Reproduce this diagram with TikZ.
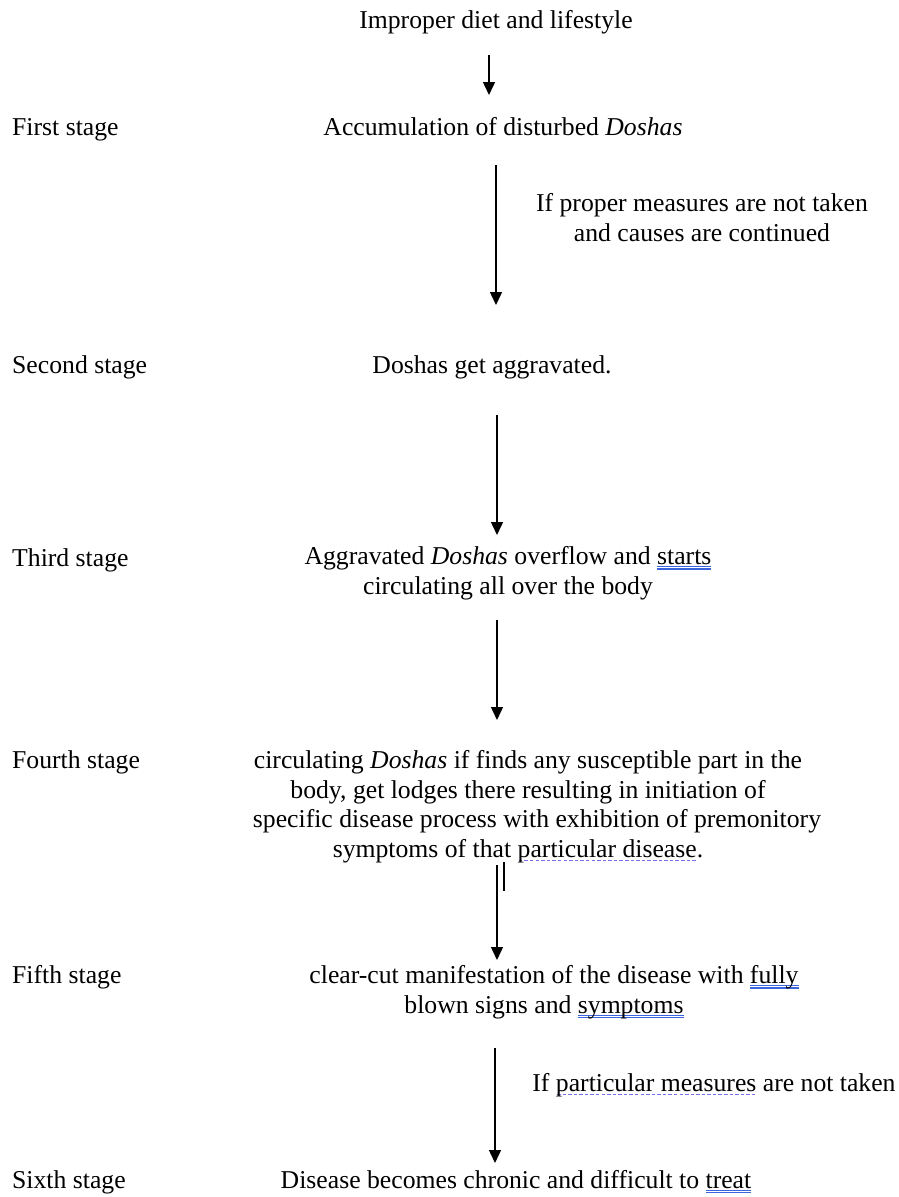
\documentclass[tikz,border=0pt]{standalone}
\usepackage{fontspec}
\setmainfont{Liberation Serif}
\usetikzlibrary{arrows.meta}
\definecolor{gramblue}{RGB}{60,100,220}
\definecolor{spellblue}{RGB}{120,110,240}
% word-style marks under words
\newsavebox\wordbox
\newcommand\gramline[1]{\sbox\wordbox{#1}%
  \rlap{\color{gramblue}\rule[-0.11em]{\wd\wordbox}{0.05em}}%
  \rlap{\color{gramblue}\rule[-0.2em]{\wd\wordbox}{0.05em}}\usebox\wordbox}
\newcommand\spellline[1]{\sbox\wordbox{#1}%
  \rlap{\hbox to \wd\wordbox{\color{spellblue}\xleaders\hbox{\kern1pt\rule[-0.17em]{3.5pt}{0.06em}\kern1pt}\hfill}}\usebox\wordbox}
\begin{document}
\begin{tikzpicture}[x=1pt,y=-1pt,
    every node/.style={inner sep=0pt,font=\fontsize{25.7}{29.5}\selectfont},
    stage/.style={anchor=base west},
    txt/.style={anchor=base,align=center},
    flow/.style={-{Triangle[width=12pt,length=13pt]},line width=1.4pt}]
    \useasboundingbox (0,0) rectangle (898,1197);
    % texts (base of a block = base of its last line)
    \node[txt] (cause) at (496,28) {Improper diet and lifestyle};
    \node[stage] (s1) at (12,135) {First stage};
    \node[txt] (t1) at (503,135) {Accumulation of disturbed \textit{Doshas}};
    \node[txt] (c1) at (702,241) {If proper measures are not taken\\and causes are continued};
    \node[stage] (s2) at (12,373) {Second stage};
    \node[txt] (t2) at (492,373) {Doshas get aggravated.};
    \node[stage] (s3) at (12,566) {Third stage};
    \node[txt] (t3) at (508,594) {Aggravated \textit{Doshas} overflow and \gramline{starts}\\circulating all over the body};
    \node[stage] (s4) at (12,768) {Fourth stage};
    \node[txt] (t4) at (528,857) {circulating \textit{Doshas} if finds any susceptible part in the\\body, get lodges there resulting in initiation of\\\hspace*{18pt}specific disease process with exhibition of premonitory\\symptoms of that \spellline{particular disease}.\hspace*{20pt}};
    \node[stage] (s5) at (12,983) {Fifth stage};
    \node[txt] (t5) at (554,1013) {clear-cut manifestation of the disease with \gramline{fully}\\blown signs and \gramline{symptoms}\hspace*{20pt}};
    \node[txt] (c5) at (714,1091) {If \spellline{particular measures} are not taken};
    \node[stage] (s6) at (12,1188) {Sixth stage};
    \node[txt] (t6) at (516,1188) {Disease becomes chronic and difficult to \gramline{treat}};
    % arrow ends
    \coordinate (a1s) at (489,55);  \coordinate (a1e) at (489,95);
    \coordinate (a2s) at (496,165); \coordinate (a2e) at (496,305);
    \coordinate (a3s) at (497,415); \coordinate (a3e) at (497,535);
    \coordinate (a4s) at (497,620); \coordinate (a4e) at (497,720);
    \coordinate (a5s) at (497,865); \coordinate (a5e) at (497,960);
    \coordinate (a6s) at (495,1048); \coordinate (a6e) at (495,1163);
    \draw[flow] (a1s) -- (a1e);
    \draw[flow] (a2s) -- (a2e);
    \draw[flow] (a3s) -- (a3e);
    \draw[flow] (a4s) -- (a4e);
    \draw[flow] (a5s) -- (a5e);
    \draw[flow] (a6s) -- (a6e);
    \draw[line width=1.4pt] (504,862) -- (504,891);
\end{tikzpicture}
\end{document}
